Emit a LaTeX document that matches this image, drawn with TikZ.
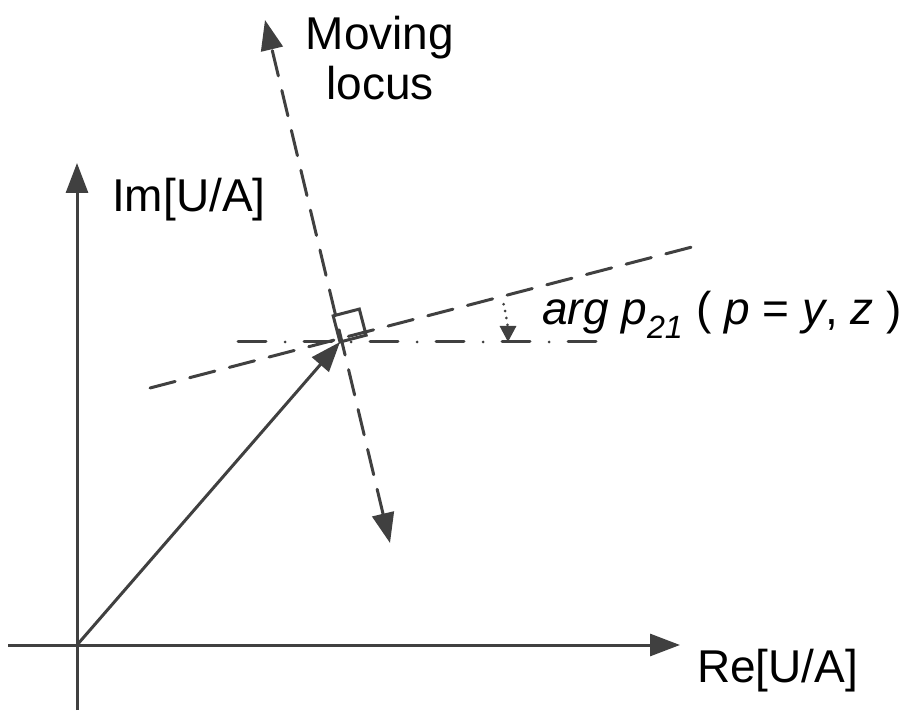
\documentclass[tikz,border=0pt]{standalone}
\usepackage{fontspec}
\setmainfont{Liberation Sans}
\usetikzlibrary{arrows.meta}
\definecolor{axisgray}{HTML}{404040}

\begin{document}
\begin{tikzpicture}[x=1pt, y=1pt, >={Triangle[length=30pt,width=22pt]},
    axis/.style={draw=axisgray, fill=none, line width=3pt},
    locus/.style={axis, line cap=round, dash pattern=on 26pt off 15pt},
    txt/.style={font=\fontsize{46}{50}\selectfont, inner sep=0pt}]
  \useasboundingbox (0,0) rectangle (906,716);

  % Axes
  \coordinate (O) at (77,71);
  \coordinate (xL) at (8,71);
  \coordinate (xR) at (680,71);
  \coordinate (yB) at (77,6);
  \coordinate (yT) at (77,553);
  \draw[axis, ->] (xL) -- (xR);
  \draw[axis, ->] (yB) -- (yT);
  \node[txt, anchor=base west] (re) at (697,34) {Re[U/A]};
  \node[txt, anchor=base west] (im) at (112,504) {Im[U/A]};

  % Point P and the vector to it
  \coordinate (P) at (340,374);
  \draw[axis, ->] (O) -- (P);

  % Moving locus
  \coordinate (locT) at (265,696);
  \coordinate (locB) at (390,173);
  \draw[locus, <->] (locB) -- (locT);
  \node[txt, align=center, anchor=base] (loc) at (380,616) {Moving\\locus};

  % Tilted line and horizontal reference
  \coordinate (tL) at (150,328);
  \coordinate (tR) at (692,469);
  \draw[locus] (tL) -- (tR);
  \coordinate (hL) at (238,374);
  \coordinate (hR) at (610,374);
  \draw[axis, line cap=round, dash pattern=on 28pt off 19pt on 0pt off 19pt] (hL) -- (hR);

  % Right angle mark
  \draw[axis] (P) -- ++(14.6:27) -- ++(104.6:27) -- ++(194.6:27) -- cycle;

  % Angle arrow
  \draw[axis, line width=3pt, line cap=round, dash pattern=on 0pt off 7pt, -{Triangle[length=16pt,width=16pt]}]
    ([shift={(13:168)}]P) arc[start angle=13, end angle=0, radius=168];
  \node[txt, anchor=base west] (arg) at (542,391)
    {\textit{arg p}\textsubscript{\textit{21}} ( \textit{p} = \textit{y}, \textit{z} )};
\end{tikzpicture}
\end{document}
